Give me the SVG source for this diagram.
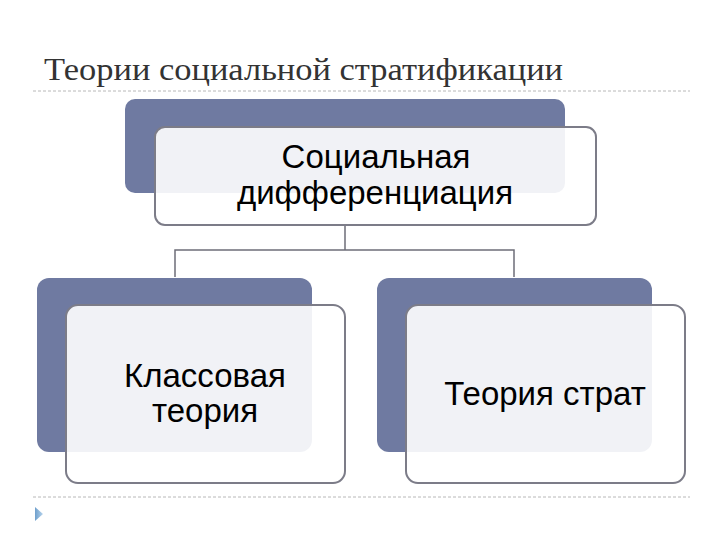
<svg xmlns="http://www.w3.org/2000/svg" width="720" height="540" viewBox="0 0 720 540">
<defs>
<style>
.title{font-family:"Liberation Serif","DejaVu Serif",serif;font-size:31px;fill:#333333}
.sep{stroke:#b8b8b8;stroke-width:1;stroke-dasharray:3 2;fill:none}
.back{fill:#6f7aa1}
.front{fill:#ffffff;fill-opacity:0.9;stroke:#7c7c88;stroke-width:2}
.lbl{font-family:"Liberation Sans",Arial,sans-serif;font-size:33px;fill:#000;text-anchor:middle}
.conn{stroke:#6e6e78;stroke-width:1.5;fill:none}
</style>
<linearGradient id="tri" x1="0" y1="0" x2="1" y2="0">
<stop offset="0" stop-color="#6f9fcc"/>
<stop offset="1" stop-color="#b5d3ec"/>
</linearGradient>
</defs>
<rect width="720" height="540" fill="#ffffff"/>
<text class="title" x="44" y="80" textLength="519" lengthAdjust="spacingAndGlyphs">Теории социальной стратификации</text>
<line class="sep" x1="33" y1="91" x2="690" y2="91"/>
<line class="sep" x1="33" y1="497" x2="690" y2="497"/>
<polygon points="35,507 43,514 35,521" fill="url(#tri)"/>
<g id="connectors">
<path class="conn" d="M345,225 V250 M175,277 V250 H514 V277"/>
</g>
<g id="node-top">
<rect class="back" x="125" y="99" width="440" height="94" rx="10"/>
<rect class="front" x="155" y="127" width="441" height="98" rx="10"/>
<text class="lbl" x="376" y="168">Социальная</text>
<text class="lbl" x="375" y="204">дифференциация</text>
</g>
<g id="node-left">
<rect class="back" x="37" y="278" width="275" height="174" rx="12"/>
<rect class="front" x="66" y="305" width="279" height="178" rx="12"/>
<text class="lbl" x="205" y="387">Классовая</text>
<text class="lbl" x="205" y="422">теория</text>
</g>
<g id="node-right">
<rect class="back" x="377" y="278" width="275" height="174" rx="12"/>
<rect class="front" x="406" y="305" width="279" height="178" rx="12"/>
<text class="lbl" x="545" y="405">Теория страт</text>
</g>
</svg>
